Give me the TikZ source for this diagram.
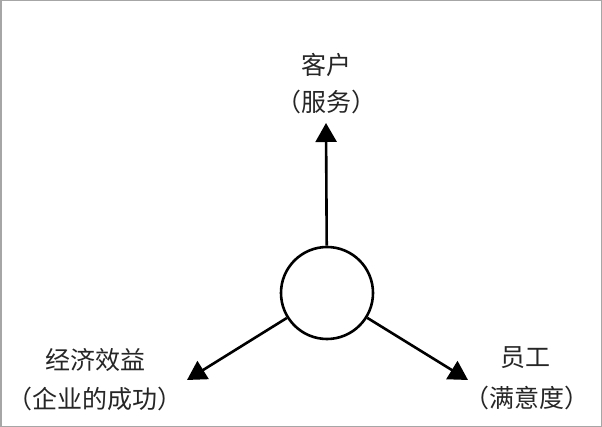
\documentclass[tikz,border=0pt]{standalone}
\usepackage{fontspec}
\newfontfamily\cjk{Noto Sans CJK SC}
\usetikzlibrary{arrows.meta}
\begin{document}
\begin{tikzpicture}[x=1pt,y=-1pt,
  lbl/.style={font=\cjk\fontsize{25}{28}\selectfont, text=black!85, inner sep=0pt, anchor=center},
  conn/.style={line width=2.6pt, -{Triangle[width=21pt,length=19pt]}}]
\useasboundingbox (0,0) rectangle (602,427);
\draw[black!35, line width=1.5pt] (0.75,0.75) rectangle (601.25,426.25);
\node[circle, draw, line width=2.6pt, minimum size=92pt, inner sep=0pt] (c) at (327,293) {};
\coordinate (t) at (326,123);
\coordinate (l) at (187,380);
\coordinate (r) at (468,380);
\draw[conn] (c) -- (t);
\draw[conn] (c) -- (l);
\draw[conn] (c) -- (r);
\node[lbl] (a1) at (326,65) {客户};
\node[lbl] (a2) at (326,102) {（服务）};
\node[lbl] (b1) at (95,360) {经济效益};
\node[lbl] (b2) at (95,399) {（企业的成功）};
\node[lbl] (d1) at (525,358) {员工};
\node[lbl] (d2) at (527,398) {（满意度）};
\end{tikzpicture}
\end{document}
